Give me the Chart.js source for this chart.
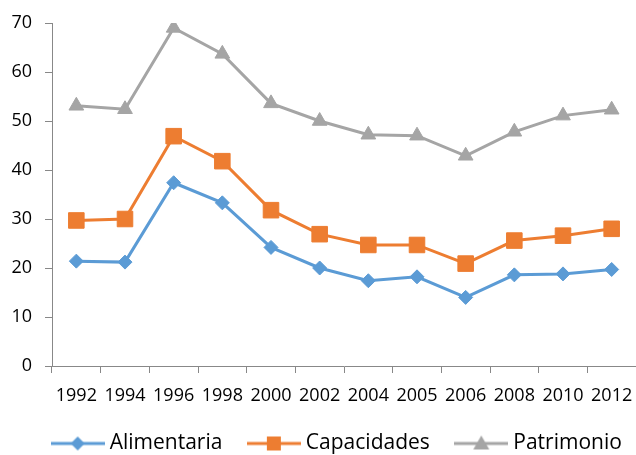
<!DOCTYPE html>
<html>
<head>
<meta charset="utf-8">
<script src="https://cdn.jsdelivr.net/npm/chart.js@4/dist/chart.umd.min.js"></script>
<style>
  html, body { margin: 0; padding: 0; background: #fff; overflow: hidden; }
  #wrap { width: 636px; height: 455px; }
</style>
</head>
<body>
<div id="wrap"><canvas id="myChart"></canvas></div>
<script>
// Datos
const years = ['1992', '1994', '1996', '1998', '2000', '2002', '2004', '2005', '2006', '2008', '2010', '2012'];
const alimentaria = [21.4, 21.2, 37.4, 33.3, 24.2, 20.0, 17.4, 18.2, 14.0, 18.6, 18.8, 19.7];
const capacidades = [29.7, 30.0, 46.9, 41.8, 31.8, 26.9, 24.7, 24.7, 20.9, 25.6, 26.6, 28.0];
const patrimonio = [53.1, 52.4, 69.0, 63.7, 53.6, 50.0, 47.2, 47.0, 42.9, 47.8, 51.1, 52.3];
const yTicks = [0, 10, 20, 30, 40, 50, 60, 70];

const FONT = '"Open Sans", sans-serif';

// Icono de leyenda: línea con marcador
function legendIcon(color, shape) {
    const c = document.createElement('canvas');
    c.width = 54; c.height = 20;
    const g = c.getContext('2d');
    g.strokeStyle = color; g.fillStyle = color; g.lineWidth = 3;
    g.beginPath(); g.moveTo(0, 10); g.lineTo(54, 10); g.stroke();
    g.beginPath();
    if (shape === 'rectRot') {
        g.moveTo(27, 3); g.lineTo(34, 10); g.lineTo(27, 17); g.lineTo(20, 10);
    } else if (shape === 'rect') {
        g.rect(20, 3, 14, 14);
    } else {
        g.moveTo(27, 2); g.lineTo(35, 16); g.lineTo(19, 16);
    }
    g.closePath(); g.fill();
    return c;
}

function serie(label, data, color, shape, radius) {
    return {
        label: label,
        data: data,
        borderColor: color,
        backgroundColor: color,
        borderWidth: 3,
        pointStyle: shape,
        pointRadius: radius,
        pointHoverRadius: radius,
        pointBorderWidth: 1,
        tension: 0,
        fill: false,
        legendIcon: legendIcon(color, shape)
    };
}

// desplaza la leyenda un poco a la derecha, como en el original
const legendShift = {
    id: 'legendShift',
    afterLayout(chart) {
        chart.legend.left += 21;
        chart.legend.right += 21;
    }
};

document.fonts.load('18px "Open Sans"').then(function () {
    const ctx = document.getElementById('myChart').getContext('2d');
    new Chart(ctx, {
        type: 'line',
        data: {
            labels: years,
            datasets: [
                serie('Alimentaria', alimentaria, '#5B9BD5', 'rectRot', 7),
                serie('Capacidades', capacidades, '#ED7D31', 'rect', 11),
                serie('Patrimonio', patrimonio, '#A5A5A5', 'triangle', 8.5)
            ]
        },
        plugins: [legendShift],
        options: {
            responsive: true,
            maintainAspectRatio: false,
            animation: false,
            layout: { autoPadding: false, padding: { top: 23, right: 0, left: 0, bottom: 0 } },
            scales: {
                x: {
                    offset: true,
                    afterFit: function (axis) { axis.height = 37; axis.paddingLeft = 0; axis.paddingRight = 0; },
                    grid: { offset: true, drawOnChartArea: false, tickLength: 7, color: '#888', tickColor: '#888' },
                    border: { color: '#888', width: 1 },
                    ticks: { font: { family: FONT, size: 18 }, color: '#000', padding: 12, maxRotation: 0, autoSkip: false }
                },
                y: {
                    min: 0,
                    max: 70,
                    afterBuildTicks: function (axis) { axis.ticks = yTicks.map(v => ({ value: v })); },
                    afterFit: function (axis) { axis.width = 52; axis.paddingTop = 0; axis.paddingBottom = 0; },
                    grid: { drawOnChartArea: false, tickLength: 7, color: '#888', tickColor: '#888' },
                    border: { color: '#888', width: 1 },
                    ticks: { font: { family: FONT, size: 18 }, color: '#000', padding: 13 }
                }
            },
            plugins: {
                tooltip: { enabled: false },
                legend: {
                    position: 'bottom',
                    maxHeight: 52,
                    labels: {
                        font: { family: FONT, size: 21 },
                        color: '#000',
                        usePointStyle: true,
                        pointStyleWidth: 43,
                        padding: 30,
                        generateLabels: function (chart) {
                            return chart.data.datasets.map((ds, i) => ({
                                text: ds.label,
                                pointStyle: ds.legendIcon,
                                fillStyle: ds.borderColor,
                                strokeStyle: ds.borderColor,
                                lineWidth: 0,
                                hidden: false,
                                datasetIndex: i,
                                fontColor: '#000'
                            }));
                        }
                    }
                }
            }
        }
    });
});
</script>
</body>
</html>
